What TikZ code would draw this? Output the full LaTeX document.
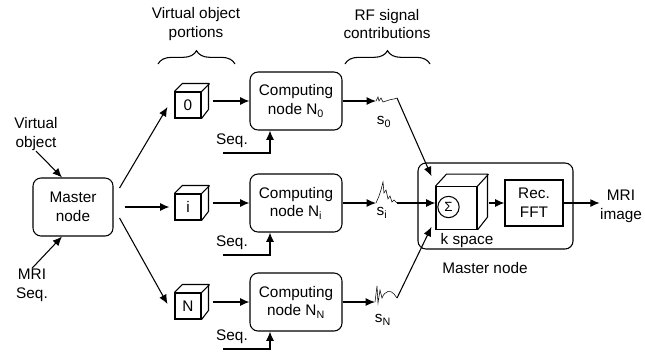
\documentclass[tikz,border=0pt]{standalone}
\usepackage{fontspec}
\setmainfont{Liberation Sans}
\usetikzlibrary{arrows.meta, decorations.pathreplacing}

\begin{document}
\begin{tikzpicture}[x=0.75pt, y=-0.75pt, thick,
    every node/.style={font=\fontsize{11.5}{14}\selectfont},
    arr/.style={-{Latex[length=7pt,width=6pt]}},
    lbl/.style={align=center, inner sep=0pt},
    rbox/.style={draw, rounded corners=6pt, align=center},
    cubeface/.style={draw, minimum size=19.5pt, inner sep=0pt},
    brace/.style={decorate, decoration={brace, amplitude=10pt}}]
  \useasboundingbox (0,0) rectangle (645,351);

  % inputs and master node
  \node[rbox, minimum width=60pt, minimum height=43.5pt] (master) at (73,207) {Master\\node};
  \node[lbl] (vobj) at (36,134) {Virtual\\object};
  \node[lbl] (mriseq) at (32,285) {MRI\\Seq.};
  \draw[arr] (vobj.south) -- ([shift={(-11,0)}]master.north);
  \draw[arr] (mriseq.north) -- ([shift={(-11,0)}]master.south);

  % braces on top
  \node[lbl] (vop) at (196,24) {Virtual object\\portions};
  \node[lbl] (rfc) at (387,24) {RF signal\\contributions};
  \draw[brace] (158,64) -- (235,64);
  \draw[brace] (345,64) -- (430,64);

  % one row per computing node
  \foreach \k/\y/\sy in {0/101/153, i/203/255, N/302/349} {
    \node[cubeface] (cube\k) at (188,\y+4) {\k};
    \draw (cube\k.north west) -- ++(8,-8) -- ++(26,0) -- ++(0,26) -- (cube\k.south east);
    \draw (cube\k.north east) -- ++(8,-8);
    \node[rbox, minimum width=69pt, minimum height=43.5pt] (comp\k) at (296,\y) {Computing\\node N\textsubscript{\k}};
    \draw[arr] (cube\k.east) ++(11,-4) -- (comp\k.west);
    \coordinate (seq\k) at (223,\sy);
    \node[lbl] (seqlbl\k) at (232,\sy-12) {Seq.};
    \draw[arr] (seq\k) -| ([shift={(-26,0)}]comp\k.south);
  }

  \draw[arr] ([shift={(6,-19)}]master.east) -- ([shift={(-7,2)}]cube0.west);
  \draw[arr] ([shift={(11,0)}]master.east) -- ([shift={(-5,0)}]cubei.west);
  \draw[arr] ([shift={(6,11)}]master.east) -- ([shift={(-7,-2)}]cubeN.west);

  % RF signals
  \coordinate (sig0) at (376,101);
  \coordinate (sig0e) at (397,98);
  \coordinate (sigi) at (376,203);
  \coordinate (sigie) at (397,203);
  \coordinate (sigN) at (375,302);
  \coordinate (sigNe) at (397,298);
  \draw[arr] (comp0.east) -- (sig0);
  \draw[arr] (compi.east) -- (sigi);
  \draw[arr] (compN.east) -- (sigN);
  \draw[thin] (sig0) -- (378,97) -- (379,101) -- (381,98) -- (383,102) -- (386,101)
    .. controls (389,99) and (392,100) .. (394,99) -- (sig0e);
  \draw[thin] (sigi) -- (379,196) -- (381,190) -- (383,182) -- (384,193) -- (386,190)
    -- (388,199) -- (390,196) -- (392,202) -- (394,200) -- (sigie);
  \draw[thin] (sigN) -- (377,286) -- (378,303) -- (380,290) -- (382,298)
    .. controls (385,290) and (391,290) .. (394,294) -- (sigNe);
  \node[lbl] (s0) at (384,122) {s\textsubscript{0}};
  \node[lbl] (si) at (382,213) {s\textsubscript{i}};
  \node[lbl] (sN) at (383,320) {s\textsubscript{N}};

  % master node with k space and reconstruction
  \node[rbox, minimum width=116.25pt, minimum height=64.5pt] (mgrp) at (495.5,206) {};
  \node[lbl] (mgrplbl) at (485,268) {Master node};
  \node[draw, minimum width=30.75pt, minimum height=32pt] (kspace) at (456.5,208) {};
  \draw (kspace.north west) -- ++(11,-12) -- ++(41,0) -- ++(0,43) -- (kspace.south east);
  \draw (kspace.north east) -- ++(11,-12);
  \node[draw, circle, minimum size=16pt, inner sep=0pt, font=\fontsize{10}{11}\selectfont] (sum) at (448.5,207) {Σ};
  \node[lbl] (klbl) at (467,241) {k space};
  \node[draw, minimum width=43.5pt, minimum height=34.5pt, align=center] (fft) at (534,203) {Rec.\\FFT};
  \node[lbl] (mriimg) at (621,206) {MRI\\image};
  \draw[arr] (kspace.east) ++(11,-5) -- (fft.west);
  \draw[arr] (fft.east) -- (fft.east -| mriimg.west);

  \draw[arr] (sig0e) -- ([shift={(-4,-10)}]kspace.north west);
  \draw[arr] (sigie) -- (sigie -| kspace.west);
  \draw[arr] (sigNe) -- ([shift={(-4,-3)}]kspace.south west);
\end{tikzpicture}
\end{document}
